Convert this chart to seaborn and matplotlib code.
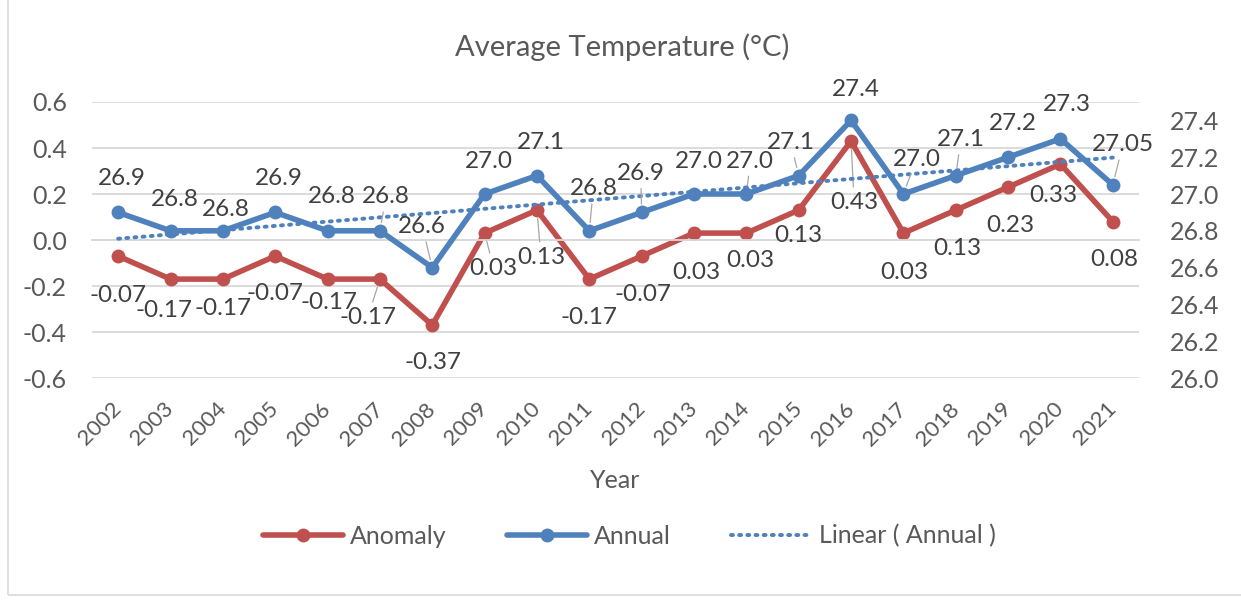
import numpy as np
import pandas as pd
import matplotlib.pyplot as plt
from matplotlib.lines import Line2D
from matplotlib.patches import Rectangle
import seaborn as sns

# data
years = ['2002', '2003', '2004', '2005', '2006', '2007', '2008', '2009', '2010', '2011',
         '2012', '2013', '2014', '2015', '2016', '2017', '2018', '2019', '2020', '2021']
anomaly = [-0.07, -0.17, -0.17, -0.07, -0.17, -0.17, -0.37, 0.03, 0.13, -0.17,
           -0.07, 0.03, 0.03, 0.13, 0.43, 0.03, 0.13, 0.23, 0.33, 0.08]
annual = [26.9, 26.8, 26.8, 26.9, 26.8, 26.8, 26.6, 27.0, 27.1, 26.8,
          26.9, 27.0, 27.0, 27.1, 27.4, 27.0, 27.1, 27.2, 27.3, 27.05]
annual_labels = ['26.9', '26.8', '26.8', '26.9', '26.8', '26.8', '26.6', '27.0', '27.1', '26.8',
                 '26.9', '27.0', '27.0', '27.1', '27.4', '27.0', '27.1', '27.2', '27.3', '27.05']
anomaly_labels = ['-0.07', '-0.17', '-0.17', '-0.07', '-0.17', '-0.17', '-0.37', '0.03', '0.13', '-0.17',
                  '-0.07', '0.03', '0.03', '0.13', '0.43', '0.03', '0.13', '0.23', '0.33', '0.08']

# label offsets in pixels (dx, dy up) and whether a leader line is drawn
annual_off = [(4, 34), (4, 31), (3, 21), (4, 34), (4, 34), (6, 34), (-10, 41), (4, 33), (4, 33), (4, 42),
              (-1, 39), (5, 33), (4, 33), (-8, 33), (5, 31), (13, 35), (5, 36), (5, 34), (6, 34), (10, 40)]
annual_lead = [0, 0, 0, 0, 0, 1, 1, 0, 0, 1, 1, 0, 1, 1, 0, 1, 1, 0, 0, 1]
anom_off = [(0, -39), (-7, -31), (0, -29), (0, -37), (1, -23), (-12, -38), (1, -37), (9, -35), (4, -47), (0, -38),
            (1, -38), (2, -39), (4, -27), (0, -25), (3, -61), (1, -39), (2, -38), (2, -38), (-7, -31), (1, -38)]
anom_lead = [0, 0, 0, 0, 0, 1, 0, 1, 1, 0, 0, 0, 0, 0, 1, 0, 0, 0, 0, 0]

RED = '#C0504D'
BLUE = '#4F81BD'
GRID = '#d9d9d9'
TXT = '#595959'
LBL = '#404040'
FS = 18
LFS = 17.5

sns.set_style('white')
plt.rcParams['font.family'] = ['Lato', 'DejaVu Sans']

df = pd.DataFrame({'pos': np.arange(len(years)), 'anomaly': anomaly, 'annual': annual})
coef = np.polyfit(df['pos'], df['annual'], 1)
df['trend'] = np.polyval(coef, df['pos'])

fig = plt.figure(figsize=(12.41, 6), dpi=100)
fig.add_artist(Rectangle((8 / 1241, 5 / 600), 1.2, 1.2, transform=fig.transFigure,
                         fill=False, edgecolor=GRID, lw=1.2))
ax = fig.add_axes([92 / 1241, 1 - 378 / 600, (1139 - 92) / 1241, (378 - 102) / 600])
ax2 = ax.twinx()

sns.lineplot(data=df, x='pos', y='anomaly', ax=ax, color=RED, lw=4, marker='o',
             markersize=10, markeredgewidth=0, legend=False)
sns.lineplot(data=df, x='pos', y='annual', ax=ax2, color=BLUE, lw=4, marker='o',
             markersize=10, markeredgewidth=0, legend=False)
sns.lineplot(data=df, x='pos', y='trend', ax=ax2, color=BLUE, lw=2.8, ls=(0, (0.5, 1.6)),
             dash_capstyle='round', legend=False)

ax.set_xlim(-0.5, len(years) - 0.5)
ax.set_ylim(-0.6, 0.6)
ax2.set_ylim(26.0, 27.5)
ax.set_yticks(np.arange(-0.6, 0.61, 0.2))
ax.set_yticklabels([f'{v:.1f}' for v in np.arange(-0.6, 0.61, 0.2)])
ax2.set_yticks(np.arange(26.0, 27.41, 0.2))
ax2.set_yticklabels([f'{v:.1f}' for v in np.arange(26.0, 27.41, 0.2)])
ax.set_xlabel('')
ax.set_ylabel('')
ax2.set_ylabel('')

ax.yaxis.grid(True, color=GRID, lw=1.3)
ax.xaxis.grid(False)
for s in ['top', 'left', 'right']:
    ax.spines[s].set_visible(False)
    ax2.spines[s].set_visible(False)
ax2.spines['bottom'].set_visible(False)
ax.spines['bottom'].set_position(('data', 0))
ax.spines['bottom'].set_color(GRID)
ax.spines['bottom'].set_linewidth(1.3)
ax.set_xticks(np.arange(-0.5, len(years), 1))
ax.set_xticklabels([])
ax.tick_params(axis='x', length=8, color=GRID, width=1.3, direction='out')
ax.tick_params(axis='y', length=0, labelsize=FS, labelcolor=TXT, pad=18)
ax2.tick_params(axis='y', length=0, labelsize=FS, labelcolor=TXT, pad=22)

# year labels along the bottom of the plot area
sec = ax.secondary_xaxis(0)
sec.set_xticks(np.arange(len(years)))
sec.set_xticklabels(years, rotation=45, ha='right', va='center', rotation_mode='anchor')
sec.tick_params(length=0, labelsize=16, labelcolor=TXT, pad=20)
sec.spines['bottom'].set_visible(False)

lead = dict(arrowstyle='-', color='#a6a6a6', lw=0.9, shrinkA=1, shrinkB=6)
for i in range(len(years)):
    ax2.annotate(annual_labels[i], (i, annual[i]), xytext=annual_off[i], textcoords='offset pixels',
                 ha='center', va='center', fontsize=LFS, color=LBL,
                 arrowprops=lead if annual_lead[i] else None)
    ax.annotate(anomaly_labels[i], (i, anomaly[i]), xytext=anom_off[i], textcoords='offset pixels',
                ha='center', va='center', fontsize=LFS, color=LBL,
                arrowprops=lead if anom_lead[i] else None)

fig.text(0.501, 1 - 47 / 600, 'Average Temperature (°C)', ha='center', va='center',
         fontsize=21, color=TXT)
fig.text(0.496, 1 - 481 / 600, 'Year', ha='center', va='center', fontsize=FS, color=TXT)

handles = [Line2D([], [], color=RED, lw=4, marker='o', markersize=10, markeredgewidth=0),
           Line2D([], [], color=BLUE, lw=4, marker='o', markersize=10, markeredgewidth=0),
           Line2D([], [], color=BLUE, lw=2.8, ls=(0, (0.5, 1.6)), dash_capstyle='round')]
fig.legend(handles, ['Anomaly', 'Annual', 'Linear ( Annual )'], loc='center',
           bbox_to_anchor=(0.507, 1 - 536 / 600), ncol=3, frameon=False, fontsize=FS,
           handlelength=3.2, handletextpad=0.3, columnspacing=2.4, labelcolor=TXT)

fig.savefig('out.png', dpi=100)
